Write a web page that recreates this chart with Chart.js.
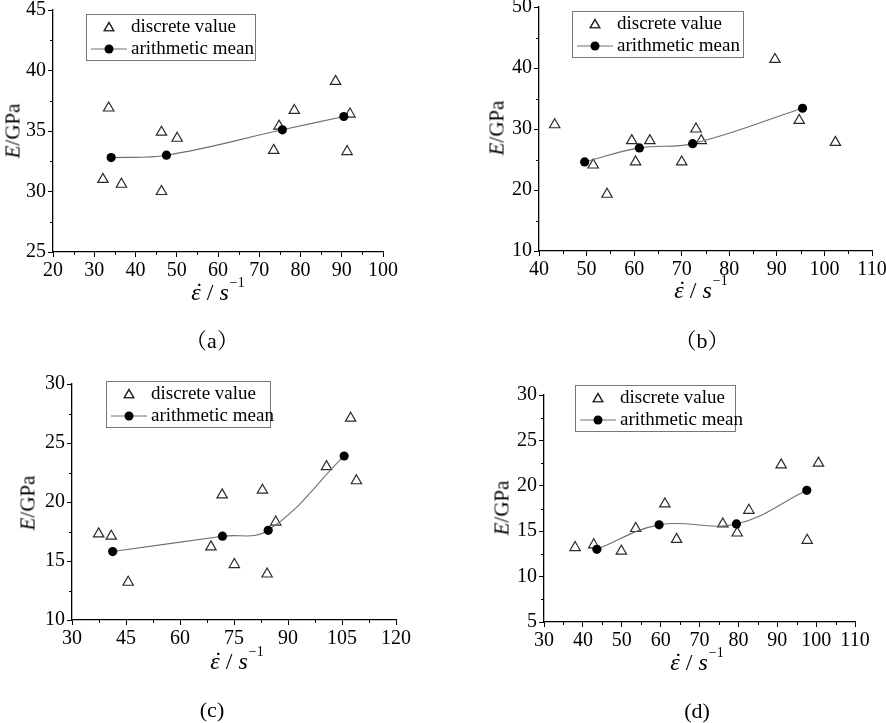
<!DOCTYPE html>
<html>
<head>
<meta charset="utf-8">
<script src="https://cdn.jsdelivr.net/npm/chart.js@4"></script>
<style>
  html, body { margin: 0; padding: 0; background: #fff; }
  body { width: 886px; height: 723px; position: relative; overflow: hidden;
         font-family: "Liberation Serif", "Noto Serif CJK SC", "Noto Sans CJK SC", serif; color: #000; }
  canvas { position: absolute; }
  .lbl { position: absolute; white-space: nowrap; transform: translate(-50%, -50%); }
  .ytitle { font-size: 21px; transform: translate(-50%, -50%) rotate(-90deg); }
  .xtitle { font-size: 24px; }
  .xtitle sup { font-size: 14px; position: relative; top: -4px; margin-left: 1px; }
  .ed { position: relative; display: inline-block; }
  .ed .dot { position: absolute; left: 4px; top: -1px; font-style: normal; }
  .cap { font-size: 22px; }
</style>
</head>
<body>
<canvas id="chartA" width="400" height="286" style="left:5px;top:-4px"></canvas>
<canvas id="chartB" width="403" height="288" style="left:491px;top:-7px"></canvas>
<canvas id="chartC" width="394" height="280" style="left:24px;top:370px"></canvas>
<canvas id="chartD" width="381" height="271" style="left:496px;top:381px"></canvas>

<div class="lbl ytitle" style="left:13px;top:131px"><i>E</i>/GPa</div>
<div class="lbl ytitle" style="left:497px;top:128px"><i>E</i>/GPa</div>
<div class="lbl ytitle" style="left:28px;top:503px"><i>E</i>/GPa</div>
<div class="lbl ytitle" style="left:502px;top:508px"><i>E</i>/GPa</div>

<div class="lbl xtitle" style="left:218px;top:292px"><span class="ed"><i>ε</i><span class="dot">˙</span></span> / <i>s</i><sup>−1</sup></div>
<div class="lbl xtitle" style="left:701px;top:290px"><span class="ed"><i>ε</i><span class="dot">˙</span></span> / <i>s</i><sup>−1</sup></div>
<div class="lbl xtitle" style="left:237px;top:661px"><span class="ed"><i>ε</i><span class="dot">˙</span></span> / <i>s</i><sup>−1</sup></div>
<div class="lbl xtitle" style="left:697px;top:662px"><span class="ed"><i>ε</i><span class="dot">˙</span></span> / <i>s</i><sup>−1</sup></div>

<div class="lbl cap" style="left:212px;top:338px">（a）</div>
<div class="lbl cap" style="left:702px;top:338px">（b）</div>
<div class="lbl cap" style="left:212px;top:710px">(c)</div>
<div class="lbl cap" style="left:697px;top:711px">(d)</div>

<script>
  // legend labels
  const seriesNames = ["discrete value", "arithmetic mean"];

  // (a)
  const aDiscreteX = [32.1, 33.5, 36.6, 46.3, 46.3, 50.1, 73.5, 74.8, 78.5, 88.5, 92.0, 91.3];
  const aDiscreteY = [31.0, 36.9, 30.6, 34.9, 30.0, 34.4, 33.4, 35.4, 36.7, 39.1, 36.4, 33.3];
  const aMeanX = [34.1, 47.5, 75.6, 90.5];
  const aMeanY = [32.8, 33.0, 35.1, 36.2];
  const aXTicks = [20, 100, 10];
  const aYTicks = [25, 45, 5];

  // (b)
  const bDiscreteX = [43.3, 51.4, 54.3, 59.5, 60.3, 63.3, 70.0, 73.0, 74.1, 89.6, 94.7, 102.3];
  const bDiscreteY = [30.7, 24.1, 19.3, 28.1, 24.6, 28.1, 24.6, 30.0, 28.1, 41.4, 31.4, 27.8];
  const bMeanX = [49.6, 61.1, 72.3, 95.4];
  const bMeanY = [24.6, 26.9, 27.6, 33.4];
  const bXTicks = [40, 110, 10];
  const bYTicks = [10, 50, 10];

  // (c)
  const cDiscreteX = [37.4, 40.9, 45.6, 68.6, 71.7, 75.1, 82.9, 84.2, 86.6, 100.7, 107.4, 109.0];
  const cDiscreteY = [17.3, 17.1, 13.2, 16.2, 20.6, 14.7, 21.0, 13.9, 18.3, 23.0, 27.1, 21.8];
  const cMeanX = [41.3, 71.8, 84.5, 105.6];
  const cMeanY = [15.8, 17.1, 17.6, 23.9];
  const cXTicks = [30, 120, 15];
  const cYTicks = [10, 30, 5];

  // (d)
  const dDiscreteX = [38.0, 42.8, 49.9, 53.6, 61.1, 64.1, 76.0, 79.7, 82.7, 91.0, 97.7, 100.6];
  const dDiscreteY = [13.2, 13.5, 12.8, 15.3, 18.0, 14.1, 15.8, 14.8, 17.3, 22.3, 14.0, 22.5];
  const dMeanX = [43.6, 59.6, 79.5, 97.6];
  const dMeanY = [13.0, 15.7, 15.8, 19.5];
  const dXTicks = [30, 110, 10];
  const dYTicks = [5, 30, 5];

  const FONT = "Liberation Serif";

  const toPoints = (xs, ys) => xs.map((x, i) => ({ x: x, y: ys[i] }));

  // short outward ticks halfway between the labelled ones
  const minorTicks = {
    id: "minorTicks",
    afterDraw(chart) {
      const ctx = chart.ctx;
      const xs = chart.scales.x;
      const ys = chart.scales.y;
      ctx.save();
      ctx.strokeStyle = "#000";
      ctx.lineWidth = 1;
      const xStep = xs.options.ticks.stepSize;
      for (let v = xs.min + xStep / 2; v < xs.max; v += xStep) {
        const px = Math.round(xs.getPixelForValue(v)) + 0.5;
        ctx.beginPath();
        ctx.moveTo(px, xs.top);
        ctx.lineTo(px, xs.top + 3);
        ctx.stroke();
      }
      const yStep = ys.options.ticks.stepSize;
      for (let v = ys.min + yStep / 2; v < ys.max; v += yStep) {
        const py = Math.round(ys.getPixelForValue(v)) + 0.5;
        ctx.beginPath();
        ctx.moveTo(ys.right, py);
        ctx.lineTo(ys.right - 3, py);
        ctx.stroke();
      }
      ctx.restore();
    },
  };

  // boxed legend inside the plot, like the original figure
  const boxLegend = {
    id: "boxLegend",
    afterDraw(chart, args, opts) {
      const ctx = chart.ctx;
      const area = chart.chartArea;
      const x0 = area.left + opts.dx;
      const y0 = area.top + opts.dy;
      const w = opts.w;
      const h = 46;
      ctx.save();
      ctx.fillStyle = "#fff";
      ctx.fillRect(x0, y0, w, h);
      ctx.strokeStyle = "#777";
      ctx.lineWidth = 1;
      ctx.strokeRect(x0 + 0.5, y0 + 0.5, w, h);

      const ds = chart.data.datasets;
      const sx = x0 + 23;
      const r1 = y0 + 13;
      const r2 = y0 + 35;
      // triangle sample
      ctx.lineWidth = 1.2;
      ctx.strokeStyle = ds[0].pointBorderColor;
      Chart.helpers.drawPoint(ctx, {
        pointStyle: "triangle", radius: 5.5, borderWidth: 1.2, rotation: 0,
      }, sx, r1 + 1);
      ctx.stroke();
      // line + circle sample
      ctx.lineWidth = 1;
      ctx.strokeStyle = ds[1].borderColor;
      ctx.beginPath();
      ctx.moveTo(x0 + 5, r2);
      ctx.lineTo(x0 + 41, r2);
      ctx.stroke();
      ctx.fillStyle = "#000";
      ctx.beginPath();
      ctx.arc(sx, r2, 4.5, 0, Math.PI * 2);
      ctx.fill();

      ctx.fillStyle = "#000";
      ctx.font = "19px '" + FONT + "'";
      ctx.textBaseline = "middle";
      ctx.fillText(ds[0].label, x0 + 45, r1);
      ctx.fillText(ds[1].label, x0 + 45, r2);
      ctx.restore();
    },
  };

  const axis = (t, isX) => ({
    type: "linear",
    min: t[0],
    max: t[1],
    grid: {
      display: true,
      drawOnChartArea: false,
      drawTicks: true,
      tickLength: 5,
      color: "#000",
      lineWidth: 1,
    },
    border: { display: true, color: "#000", width: 1.3 },
    ticks: {
      stepSize: t[2],
      autoSkip: false,
      maxRotation: 0,
      padding: 2,
      color: "#000",
      font: { family: FONT, size: 20 },
    },
    afterFit: (scale) => {
      if (isX) scale.height = 30;
      else scale.width = 48;
    },
  });

  const makePanel = (id, dX, dY, mX, mY, xT, yT, leg) => {
    const canvas = document.getElementById(id);
    return new Chart(canvas.getContext("2d"), {
      type: "scatter",
      data: {
        datasets: [
          {
            label: seriesNames[0],
            data: toPoints(dX, dY),
            pointStyle: "triangle",
            pointRadius: 6,
            pointBackgroundColor: "rgba(255,255,255,0)",
            borderColor: "#2a2a2a",
            pointBorderColor: "#2a2a2a",
            pointBorderWidth: 1.2,
            showLine: false,
            order: 2,
          },
          {
            label: seriesNames[1],
            data: toPoints(mX, mY),
            pointStyle: "circle",
            pointRadius: 4.6,
            pointBackgroundColor: "#000",
            pointBorderColor: "#000",
            pointBorderWidth: 0,
            borderColor: "#707070",
            borderWidth: 1.1,
            showLine: true,
            tension: 0.4,
            order: 1,
          },
        ],
      },
      options: {
        responsive: false,
        animation: false,
        devicePixelRatio: 1,
        layout: { padding: { left: 0, top: 14, right: 22, bottom: 0 } },
        scales: { x: axis(xT, true), y: axis(yT, false) },
        plugins: {
          legend: { display: false },
          tooltip: { enabled: false },
          boxLegend: leg,
        },
      },
      plugins: [minorTicks, boxLegend],
    });
  };

  makePanel("chartA", aDiscreteX, aDiscreteY, aMeanX, aMeanY, aXTicks, aYTicks, { dx: 33, dy: 4, w: 169 });
  makePanel("chartB", bDiscreteX, bDiscreteY, bMeanX, bMeanY, bXTicks, bYTicks, { dx: 33, dy: 4, w: 171 });
  makePanel("chartC", cDiscreteX, cDiscreteY, cMeanX, cMeanY, cXTicks, cYTicks, { dx: 34, dy: -3, w: 164 });
  makePanel("chartD", dDiscreteX, dDiscreteY, dMeanX, dMeanY, dXTicks, dYTicks, { dx: 31, dy: -10, w: 160 });
</script>
</body>
</html>
